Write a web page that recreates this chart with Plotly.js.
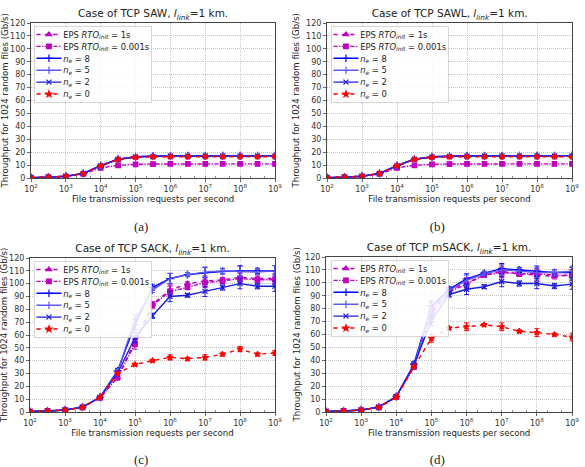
<!DOCTYPE html>
<html>
<head>
<meta charset="utf-8">
<script src="https://cdn.plot.ly/plotly-3.0.1.min.js"></script>
<style>
  html, body { margin: 0; padding: 0; background: #fff; }
  #frame { width: 585px; height: 467px; overflow: hidden; position: relative; }
  #chart { position: absolute; left: 0; top: 0; transform-origin: 0 0; }
</style>
</head>
<body>
<div id="frame"><div id="chart"></div></div>
<script>
// File transmission requests per second (half-decade steps, 1e2 .. 1e9)
const requestRates = [100, 316, 1000, 3162, 10000, 31623, 100000, 316228, 1000000,
  3162278, 10000000, 31622777, 100000000, 316227766, 1000000000];

const xTickVals = [1e2, 1e3, 1e4, 1e5, 1e6, 1e7, 1e8, 1e9];
const xTickText = ['10<sup>2</sup>', '10<sup>3</sup>', '10<sup>4</sup>', '10<sup>5</sup>',
  '10<sup>6</sup>', '10<sup>7</sup>', '10<sup>8</sup>', '10<sup>9</sup>'];

const panelTitles = ['Case of TCP SAW, <i>l</i><sub><i>link</i></sub>=1 km.',
  'Case of TCP SAWL, <i>l</i><sub><i>link</i></sub>=1 km.',
  'Case of TCP SACK, <i>l</i><sub><i>link</i></sub>=1 km.',
  'Case of TCP mSACK, <i>l</i><sub><i>link</i></sub>=1 km.'];
const panelCaptions = ['(a)', '(b)', '(c)', '(d)'];
const xTitle = 'File transmission requests per second';
const yTitle = 'Throughput for 1024 random files (Gb/s)';

const seriesNames = ['EPS <i>RTO</i><sub><i>init</i></sub> = 1s', 'EPS <i>RTO</i><sub><i>init</i></sub> = 0.001s',
  '<i>n</i><sub><i>e</i></sub> = 8', '<i>n</i><sub><i>e</i></sub> = 5', '<i>n</i><sub><i>e</i></sub> = 2', '<i>n</i><sub><i>e</i></sub> = 0'];

// Throughput (Gb/s) — TCP SAW
const sawRto1   = [0.3, 0.7, 1.3, 3.4, 9.3, 14.3, 16.2, 16.6, 16.8, 16.8, 16.9, 16.9, 16.9, 16.9, 16.9];
const sawRto001 = [0.3, 0.6, 1.1, 3.1, 7.8, 9.8, 10.6, 10.8, 10.9, 10.9, 10.9, 10.9, 10.9, 10.9, 10.9];
const sawNe8    = [0.3, 0.7, 1.4, 3.6, 9.6, 14.6, 16.4, 16.9, 17.1, 17.1, 17.2, 17.2, 17.2, 17.2, 17.2];
const sawNe5    = [0.3, 0.7, 1.4, 3.6, 9.6, 14.6, 16.4, 16.9, 17.0, 17.1, 17.1, 17.2, 17.2, 17.2, 17.2];
const sawNe2    = [0.3, 0.7, 1.4, 3.6, 9.5, 14.5, 16.3, 16.8, 17.0, 17.0, 17.1, 17.1, 17.1, 17.1, 17.1];
const sawNe0    = [0.3, 0.7, 1.3, 3.5, 9.5, 14.4, 16.0, 16.4, 16.5, 16.5, 16.5, 16.5, 16.5, 16.5, 16.4];

// Throughput (Gb/s) — TCP SAWL
const sawlRto1   = [0.3, 0.7, 1.3, 3.4, 9.3, 14.3, 16.2, 16.6, 16.8, 16.8, 16.9, 16.9, 16.9, 16.9, 16.9];
const sawlRto001 = [0.3, 0.6, 1.1, 3.1, 7.8, 9.8, 10.6, 10.8, 10.9, 10.9, 10.9, 10.9, 10.9, 10.9, 10.9];
const sawlNe8    = [0.3, 0.7, 1.4, 3.6, 9.6, 14.6, 16.4, 16.9, 17.1, 17.1, 17.2, 17.2, 17.2, 17.2, 17.3];
const sawlNe5    = [0.3, 0.7, 1.4, 3.6, 9.6, 14.6, 16.4, 16.9, 17.0, 17.1, 17.1, 17.2, 17.2, 17.2, 17.2];
const sawlNe2    = [0.3, 0.7, 1.4, 3.6, 9.5, 14.5, 16.3, 16.8, 17.0, 17.0, 17.1, 17.1, 17.1, 17.1, 17.1];
const sawlNe0    = [0.3, 0.7, 1.3, 3.5, 9.5, 14.4, 16.0, 16.4, 16.5, 16.5, 16.5, 16.5, 16.5, 16.5, 16.4];

// Throughput (Gb/s) — TCP SACK
const sackRto1   = [0.4, 0.8, 1.5, 3.6, 11.0, 27.0, 55.0, 84.0, 95.0, 100.0, 102.0, 103.0, 105.0, 104.0, 104.0];
const sackRto001 = [0.4, 0.8, 1.5, 3.6, 11.0, 27.0, 53.0, 83.0, 94.0, 97.0, 101.0, 102.0, 104.0, 103.0, 103.0];
const sackNe8    = [0.4, 0.8, 1.6, 3.8, 11.5, 32.0, 68.0, 97.0, 104.0, 107.0, 108.5, 109.5, 110.0, 110.0, 110.0];
const sackNe5    = [0.4, 0.8, 1.6, 3.8, 11.5, 31.0, 72.0, 95.0, 104.0, 107.0, 109.0, 110.0, 109.5, 109.0, 110.0];
const sackNe2    = [0.4, 0.8, 1.6, 3.8, 11.5, 30.0, 58.0, 75.0, 90.0, 91.0, 94.0, 97.0, 100.0, 98.0, 98.0];
const sackNe0    = [0.4, 0.8, 1.5, 3.6, 11.5, 30.0, 37.0, 40.0, 42.5, 41.5, 42.5, 45.0, 49.0, 45.0, 46.0];

// Throughput (Gb/s) — TCP mSACK
const msackRto1   = [0.4, 0.8, 1.5, 3.6, 11.5, 35.0, 78.0, 94.0, 100.0, 106.0, 109.0, 107.0, 106.0, 105.0, 106.0];
const msackRto001 = [0.4, 0.8, 1.5, 3.6, 11.5, 35.0, 76.0, 93.0, 99.0, 106.0, 108.0, 107.0, 107.0, 106.0, 106.0];
const msackNe8    = [0.4, 0.8, 1.5, 3.8, 12.0, 37.0, 82.0, 95.0, 103.0, 107.5, 111.0, 110.0, 109.0, 108.0, 108.0];
const msackNe5    = [0.4, 0.8, 1.5, 3.8, 12.0, 36.0, 80.0, 94.0, 102.0, 107.0, 110.0, 109.0, 108.0, 108.0, 109.0];
const msackNe2    = [0.4, 0.8, 1.5, 3.8, 12.0, 36.0, 71.0, 91.0, 95.0, 97.0, 101.0, 99.5, 99.5, 97.5, 99.0];
const msackNe0    = [0.4, 0.8, 1.5, 3.6, 11.5, 35.0, 57.0, 65.0, 66.0, 67.5, 66.0, 62.5, 61.5, 60.0, 58.0];

// Error-bar half-widths (Gb/s)
const sawErr    = [0.1, 0.2, 0.3, 0.5, 0.8, 0.8, 0.6, 0.5, 0.5, 0.5, 0.5, 0.5, 0.5, 0.5, 0.5];
const sackErr   = [0.2, 0.3, 0.4, 0.6, 1.0, 2.0, 4.0, 2.0, 4.0, 1.5, 4.0, 2.0, 4.0, 2.0, 4.0];
const sackErr0  = [0.2, 0.3, 0.4, 0.6, 1.0, 1.5, 1.0, 1.0, 2.0, 1.0, 2.0, 1.0, 2.0, 1.0, 2.0];
const msackErr0 = [0.2, 0.3, 0.4, 0.6, 1.0, 1.5, 3.0, 1.0, 3.0, 1.0, 3.0, 1.0, 3.0, 1.0, 3.0];

const panelSeries = [
  [sawRto1, sawRto001, sawNe8, sawNe5, sawNe2, sawNe0],
  [sawlRto1, sawlRto001, sawlNe8, sawlNe5, sawlNe2, sawlNe0],
  [sackRto1, sackRto001, sackNe8, sackNe5, sackNe2, sackNe0],
  [msackRto1, msackRto001, msackNe8, msackNe5, msackNe2, msackNe0]
];
const panelErrors = [
  [sawErr, sawErr, sawErr, sawErr, sawErr, sawErr],
  [sawErr, sawErr, sawErr, sawErr, sawErr, sawErr],
  [sackErr, sackErr, sackErr, sackErr, sackErr, sackErr0],
  [sackErr, sackErr, sackErr, sackErr, sackErr, msackErr0]
];

// The figure is laid out at S times its display size and scaled down,
// so every length below is given in display pixels and multiplied by S.
const S = 3;
const W = 585, H = 467;

// Visual style of each series (same order as seriesNames)
const styles = [
  { color: '#bf00bf', dash: 'dash',    symbol: 'triangle-up',     size: 5 },
  { color: '#bf00bf', dash: 'dashdot', symbol: 'square',          size: 4.5 },
  { color: '#0000ff', dash: 'solid',   symbol: 'cross-thin-open', size: 5.5 },
  { color: '#5a5af0', dash: 'solid',   symbol: 'line-ns-open',    size: 6 },
  { color: '#1c1cdc', dash: 'solid',   symbol: 'x-thin-open',     size: 5 },
  { color: '#ff0000', dash: 'dash',    symbol: 'star',            size: 4.5 }
];

// Plot-area boxes in display pixels: [left, right, top, bottom]
const boxes = [[31, 275, 23, 178], [327, 572, 23, 178], [30, 275, 258, 412], [326, 572, 257, 412]];
const legendPos = [[34, 26], [331, 26], [34, 261], [331, 260]];
const captionPos = [[141, 227], [437, 227], [141, 460], [437, 460]];
const yTitleX = [5, 296, 4, 297];

const font = 'DejaVu Sans, sans-serif';
const traces = [];
const layout = {
  width: W * S, height: H * S,
  margin: { l: 0, r: 0, t: 0, b: 0 },
  paper_bgcolor: '#fff', plot_bgcolor: '#fff',
  font: { family: font, color: '#222', size: 8 * S },
  annotations: [],
  showlegend: true
};

function note(text, px, py, size, extra) {
  layout.annotations.push(Object.assign({
    xref: 'paper', yref: 'paper', x: px / W, y: 1 - py / H,
    text: text, showarrow: false,
    font: { size: size * S, color: '#222', family: font },
    xanchor: 'center', yanchor: 'middle'
  }, extra || {}));
}

for (let p = 0; p < 4; p++) {
  const ax = p === 0 ? '' : String(p + 1);
  const [l, r, t, b] = boxes[p];
  const legendKey = p === 0 ? 'legend' : 'legend' + (p + 1);

  for (let s = 0; s < 6; s++) {
    const st = styles[s];
    traces.push({
      type: 'scatter', mode: 'lines+markers',
      x: requestRates, y: panelSeries[p][s],
      name: seriesNames[s],
      xaxis: 'x' + ax, yaxis: 'y' + ax,
      legend: legendKey,
      line: { color: st.color, dash: st.dash, width: 1.4 * S },
      marker: { color: st.color, symbol: st.symbol, size: st.size * S, line: { color: st.color, width: 1.2 * S } },
      error_y: { type: 'data', array: panelErrors[p][s], visible: true, color: st.color, thickness: 1 * S, width: 2.5 * S }
    });
  }

  const common = {
    ticks: 'outside', ticklen: 3 * S, tickwidth: 0.8 * S, tickcolor: '#444',
    tickfont: { size: 8 * S, color: '#333' },
    showline: true, linecolor: '#444', linewidth: 1 * S, mirror: true,
    showgrid: true, gridcolor: '#b8b8b8', griddash: 'dot', gridwidth: 0.8 * S,
    zeroline: false
  };

  layout['xaxis' + ax] = Object.assign({}, common, {
    type: 'log', range: [2, 9],
    domain: [l / W, r / W], anchor: 'y' + ax,
    tickvals: xTickVals, ticktext: xTickText,
    minor: { ticks: 'inside', ticklen: 2 * S, tickwidth: 0.6 * S, tickcolor: '#444', showgrid: false }
  });
  layout['yaxis' + ax] = Object.assign({}, common, {
    range: [0, 120], dtick: 10,
    domain: [1 - b / H, 1 - t / H], anchor: 'x' + ax
  });

  layout[legendKey] = {
    x: legendPos[p][0] / W, y: 1 - legendPos[p][1] / H,
    xanchor: 'left', yanchor: 'top',
    bgcolor: 'rgba(255,255,255,0.85)', bordercolor: '#cccccc', borderwidth: 0.8 * S,
    font: { size: 8.4 * S, color: '#222' },
    tracegroupgap: 0, itemwidth: 25 * S
  };

  note(panelTitles[p], (l + r) / 2, t - 8.5, 10.5);
  note(xTitle, (l + r) / 2, b + 21, 8.6);
  note(yTitle, yTitleX[p], (t + b) / 2, 8.6, { textangle: -90 });
  note(panelCaptions[p], captionPos[p][0], captionPos[p][1], 13, { font: { size: 13 * S, color: '#222', family: 'Liberation Serif, serif' } });
}

document.getElementById('chart').style.transform = 'scale(' + (1 / S) + ')';
Plotly.newPlot('chart', traces, layout, { displayModeBar: false, staticPlot: true });
</script>
</body>
</html>
